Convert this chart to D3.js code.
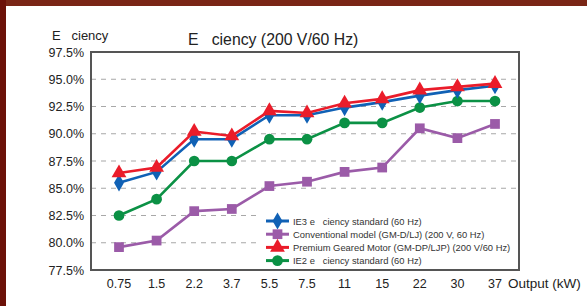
<!DOCTYPE html>
<html><head><meta charset="utf-8">
<script src="https://cdn.jsdelivr.net/npm/d3@7"></script>
<style>
html,body{margin:0;padding:0;background:#fff;}
svg{display:block;font-family:"Liberation Sans",Arial,sans-serif;}
text{white-space:pre;}
</style></head>
<body>
<svg id="c" width="587" height="306"></svg>
<script>
const categories = ["0.75","1.5","2.2","3.7","5.5","7.5","11","15","22","30","37"];
const ie3 = [85.5,86.5,89.5,89.5,91.7,91.7,92.4,92.9,93.5,94.0,94.4];
const conventional = [79.6,80.2,82.9,83.1,85.2,85.6,86.5,86.9,90.5,89.6,90.9];
const premium = [86.4,86.9,90.2,89.8,92.1,91.9,92.8,93.2,94.0,94.3,94.6];
const ie2 = [82.5,84.0,87.5,87.5,89.5,89.5,91.0,91.0,92.4,93.0,93.0];
const yTicks = [77.5,80.0,82.5,85.0,87.5,90.0,92.5,95.0,97.5];
const seriesNames = ["IE3 e   ciency standard (60 Hz)","Conventional model (GM-D/LJ) (200 V, 60 Hz)","Premium Geared Motor (GM-DP/LJP) (200 V/60 Hz)","IE2 e   ciency standard (60 Hz)"];

const svg = d3.select("#c");
// frame
svg.append("rect").attr("x",0).attr("y",0).attr("width",587).attr("height",6).attr("fill","#7a2616");
svg.append("rect").attr("x",0).attr("y",0).attr("width",6).attr("height",306).attr("fill","#6c1108");

const L=91,R=519,T=52,B=270;
const x = d3.scalePoint().domain(categories).range([L+28,R-24]);
const y = d3.scaleLinear().domain([77.5,97.5]).range([B,T]);

// grid
svg.append("g").selectAll("line").data(yTicks.filter(v=>v>77.5&&v<97.5)).join("line")
  .attr("x1",L).attr("x2",R).attr("y1",d=>y(d)).attr("y2",d=>y(d))
  .attr("stroke","#a8a8a8").attr("stroke-width",1.2).attr("stroke-dasharray","5,5");

// y labels
svg.append("g").selectAll("text").data(yTicks).join("text")
  .attr("x",84).attr("y",d=>y(d)+4.5).attr("text-anchor","end")
  .attr("font-size",12.5).attr("fill","#222").text(d=>d.toFixed(1)+"%");
// x labels
svg.append("g").selectAll("text").data(categories).join("text")
  .attr("x",d=>x(d)).attr("y",288).attr("text-anchor","middle")
  .attr("font-size",12.5).attr("fill","#222").text(d=>d);
svg.append("text").attr("x",508).attr("y",288).attr("font-size",13.5).attr("fill","#222").text("Output (kW)");

// titles
svg.append("text").attr("x",52).attr("y",40).attr("font-size",13).attr("fill","#222").text("E   ciency");
svg.append("text").attr("x",188).attr("y",45).attr("font-size",15.8).attr("fill","#222").text("E   ciency (200 V/60 Hz)");

const series = [
  {name:seriesNames[1],vals:conventional,color:"#9b5ba8",shape:d3.symbolSquare,size:95},
  {name:seriesNames[3],vals:ie2,color:"#0b9145",shape:d3.symbolCircle,size:90},
  {name:seriesNames[0],vals:ie3,color:"#1061b5",shape:d3.symbolDiamond,size:85},
  {name:seriesNames[2],vals:premium,color:"#ea1c2a",shape:d3.symbolTriangle,size:95},
];
const line = d3.line().x((d,i)=>x(categories[i])).y(d=>y(d));

series.forEach(s=>{
  svg.append("path").attr("d",line(s.vals)).attr("fill","none").attr("stroke",s.color).attr("stroke-width",2.6);
  svg.append("g").selectAll("path").data(s.vals).join("path")
    .attr("transform",(d,i)=>`translate(${x(categories[i])},${y(d)})`)
    .attr("d",d3.symbol().type(s.shape).size(s.size)).attr("fill",s.color);
});

// legend
const lg = svg.append("g");
lg.append("rect").attr("x",257).attr("y",207).attr("width",R-257).attr("height",B-207).attr("fill","#fff");
const legOrder = [series[2],series[0],series[3],series[1]];
legOrder.forEach((s,i)=>{
  const yy = 221 + i*13.2;
  lg.append("line").attr("x1",266).attr("x2",289).attr("y1",yy).attr("y2",yy).attr("stroke",s.color).attr("stroke-width",3);
  lg.append("path").attr("transform",`translate(277.5,${yy})`).attr("d",d3.symbol().type(s.shape).size(s.size)).attr("fill",s.color);
  lg.append("text").attr("x",293).attr("y",yy+3.5).attr("font-size",9.4).attr("fill","#333").text(s.name);
});

// border
svg.append("rect").attr("x",L).attr("y",T).attr("width",R-L).attr("height",B-T)
  .attr("fill","none").attr("stroke","#555").attr("stroke-width",2);
</script>
</body></html>
